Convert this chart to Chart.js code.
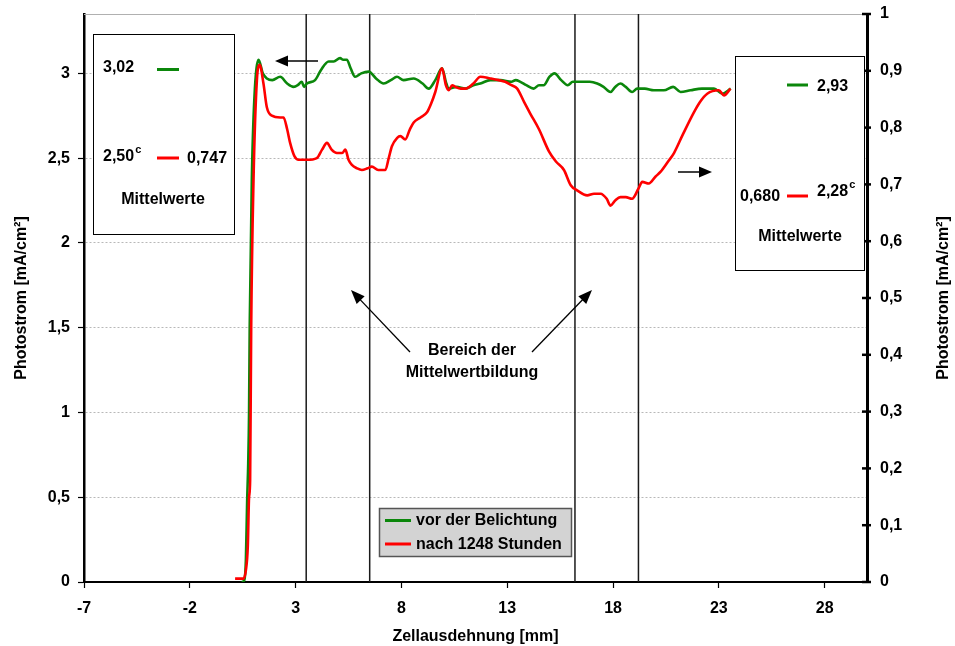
<!DOCTYPE html>
<html><head><meta charset="utf-8">
<script src="https://cdn.jsdelivr.net/npm/chart.js@4"></script>
<style>html,body{margin:0;padding:0;background:#fff}</style>
</head><body>
<canvas id="c" width="955" height="646"></canvas>
<script>
// ---- data ----
const greenX = [0.45,0.57,0.65,0.71,0.76,0.8,0.83,0.93,1.05,1.25,1.45,1.64,1.9,2.27,2.6,2.9,3.1,3.29,3.4,3.53,3.92,4.2,4.56,4.8,5.1,5.25,5.42,5.6,5.81,6.1,6.45,6.8,7.16,7.5,7.79,8.1,8.58,9.0,9.29,9.6,9.92,10.1,10.23,10.6,11.02,11.4,11.73,12.2,12.68,13.2,13.4,13.62,13.9,14.25,14.5,14.72,15.0,15.23,15.55,15.86,16.1,16.46,16.9,17.25,17.55,17.88,18.1,18.35,18.6,18.9,19.14,19.5,19.93,20.4,20.84,21.19,21.66,22.2,22.77,23.16,23.56];
const greenY = [0.0,0.01,0.13,0.48,0.7,1.0,1.5,2.37,2.85,3.08,3.0,2.97,2.96,2.98,2.94,2.92,2.93,2.95,2.92,2.94,2.96,3.02,3.07,3.07,3.09,3.08,3.08,3.03,2.98,3.0,3.01,2.97,2.94,2.96,2.98,2.96,2.97,2.94,2.91,2.96,3.03,2.95,2.91,2.92,2.91,2.93,2.94,2.96,2.96,2.95,2.96,2.95,2.93,2.91,2.93,2.93,2.98,3.0,2.96,2.93,2.95,2.95,2.95,2.94,2.92,2.89,2.92,2.94,2.92,2.89,2.91,2.91,2.9,2.9,2.92,2.89,2.9,2.91,2.91,2.88,2.91];
const redX = [0.14,0.54,0.65,0.74,0.8,0.85,0.9,1.01,1.17,1.3,1.48,1.64,1.88,2.27,2.43,2.6,2.74,2.95,3.14,3.53,4.0,4.25,4.48,4.7,4.95,5.2,5.35,5.5,5.66,5.9,6.13,6.4,6.6,6.9,7.24,7.4,7.55,7.8,7.95,8.18,8.4,8.58,8.9,9.21,9.4,9.6,9.92,10.1,10.23,10.4,10.55,10.8,11.02,11.4,11.73,12.2,12.6,12.9,13.2,13.47,13.8,14.1,14.5,14.97,15.3,15.68,16.0,16.3,16.78,17.1,17.41,17.7,17.88,18.1,18.35,18.6,18.9,19.2,19.38,19.69,20.0,20.25,20.6,20.88,21.3,21.82,22.1,22.45,23.0,23.24,23.55];
const redY = [0.02,0.02,0.07,0.21,0.5,0.6,1.5,2.37,2.96,3.05,2.94,2.8,2.75,2.74,2.74,2.67,2.59,2.51,2.49,2.49,2.5,2.55,2.59,2.55,2.53,2.53,2.55,2.49,2.46,2.44,2.43,2.44,2.45,2.43,2.43,2.5,2.57,2.62,2.63,2.61,2.67,2.71,2.74,2.77,2.82,2.89,3.03,2.93,2.9,2.93,2.92,2.91,2.91,2.94,2.98,2.97,2.96,2.95,2.93,2.91,2.83,2.76,2.67,2.54,2.48,2.43,2.34,2.31,2.28,2.29,2.29,2.26,2.22,2.25,2.27,2.27,2.26,2.32,2.36,2.35,2.39,2.42,2.48,2.53,2.64,2.77,2.83,2.88,2.9,2.87,2.91];
const seriesLabels = ['vor der Belichtung', 'nach 1248 Stunden'];
const xTicks = [-7, -2, 3, 8, 13, 18, 23, 28];
const leftTicks = [0, 0.5, 1, 1.5, 2, 2.5, 3];
const rightTicks = [0, 0.1, 0.2, 0.3, 0.4, 0.5, 0.6, 0.7, 0.8, 0.9, 1];
const avgBounds = [3.5, 6.5, 16.2, 19.2];
const meanLeft = ['3,02', '2,50', '0,747'];
const meanRight = ['2,93', '2,28', '0,680'];
const axisTitleY = 'Photostrom [mA/cm²]';
const axisTitleX = 'Zellausdehnung [mm]';

// ---- styling ----
const GREEN = '#0b870b', RED = '#ff0000';
const FONT = '"Liberation Sans", Arial, sans-serif';
const BOLD16 = 'bold 16px ' + FONT;
const toPts = (xs, ys) => xs.map((x, i) => ({x: x, y: ys[i]}));
const fmt = v => String(v).replace('.', ',');

function arrow(ctx, x1, y1, x2, y2, len, half) {
  const a = Math.atan2(y2 - y1, x2 - x1);
  ctx.beginPath(); ctx.moveTo(x1, y1);
  ctx.lineTo(x2 - Math.cos(a) * len * 0.8, y2 - Math.sin(a) * len * 0.8); ctx.stroke();
  ctx.beginPath(); ctx.moveTo(x2, y2);
  ctx.lineTo(x2 - len * Math.cos(a) + half * Math.sin(a), y2 - len * Math.sin(a) - half * Math.cos(a));
  ctx.lineTo(x2 - len * Math.cos(a) - half * Math.sin(a), y2 - len * Math.sin(a) + half * Math.cos(a));
  ctx.closePath(); ctx.fill();
}
function dash(ctx, x1, x2, y, color) {
  ctx.save(); ctx.strokeStyle = color; ctx.lineWidth = 3; ctx.beginPath();
  ctx.moveTo(x1, y); ctx.lineTo(x2, y); ctx.stroke(); ctx.restore();
}

const decor = {
  id: 'decor',
  beforeDatasetsDraw(chart) {
    const {ctx, chartArea: ca, scales: {x}} = chart;
    ctx.save();
    ctx.strokeStyle = '#b0b0b0'; ctx.lineWidth = 1;
    ctx.beginPath(); ctx.moveTo(ca.left, ca.top + 0.5); ctx.lineTo(ca.right, ca.top + 0.5); ctx.stroke();
    ctx.strokeStyle = '#1a1a1a'; ctx.lineWidth = 1.5;
    avgBounds.forEach(v => {
      const px = x.getPixelForValue(v);
      ctx.beginPath(); ctx.moveTo(px, ca.top); ctx.lineTo(px, ca.bottom); ctx.stroke();
    });
    ctx.restore();
  },
  afterDraw(chart) {
    const {ctx, scales: {y2}} = chart;
    ctx.save();
    // right axis crossing ticks
    ctx.strokeStyle = '#000'; ctx.lineWidth = 2.5;
    rightTicks.forEach(v => {
      const py = y2.getPixelForValue(v);
      ctx.beginPath(); ctx.moveTo(y2.left - 5, py); ctx.lineTo(y2.left + 4, py); ctx.stroke();
    });
    // right axis title
    ctx.save(); ctx.translate(944, 298); ctx.rotate(-Math.PI / 2);
    ctx.font = BOLD16; ctx.fillStyle = '#000'; ctx.textAlign = 'center'; ctx.textBaseline = 'middle';
    ctx.fillText(axisTitleY, 0, 0); ctx.restore();

    ctx.fillStyle = '#000'; ctx.strokeStyle = '#000'; ctx.lineWidth = 1;
    // left mean box
    ctx.fillStyle = '#fff'; ctx.fillRect(93, 34, 141, 200);
    ctx.strokeRect(93.5, 34.5, 141, 200);
    ctx.fillStyle = '#000'; ctx.font = BOLD16; ctx.textBaseline = 'middle'; ctx.textAlign = 'left';
    ctx.fillText(meanLeft[0], 103, 68);
    dash(ctx, 157, 179, 69.5, GREEN);
    ctx.fillText(meanLeft[1], 103, 157);
    let w = ctx.measureText(meanLeft[1]).width;
    ctx.font = 'bold 11px ' + FONT; ctx.fillText('c', 103 + w + 1, 150);
    ctx.font = BOLD16;
    dash(ctx, 157, 179, 158, RED);
    ctx.fillText(meanLeft[2], 187, 158.5);
    ctx.textAlign = 'center'; ctx.fillText('Mittelwerte', 163, 200);
    // right mean box
    ctx.fillStyle = '#fff'; ctx.fillRect(735, 56, 129, 214);
    ctx.strokeRect(735.5, 56.5, 129, 214);
    ctx.fillStyle = '#000'; ctx.textAlign = 'left';
    dash(ctx, 787, 808, 85, GREEN);
    ctx.fillText(meanRight[0], 817, 86.5);
    ctx.fillText(meanRight[1], 817, 192);
    w = ctx.measureText(meanRight[1]).width;
    ctx.font = 'bold 11px ' + FONT; ctx.fillText('c', 817 + w + 1, 185);
    ctx.font = BOLD16;
    ctx.fillText(meanRight[2], 740, 196.5);
    dash(ctx, 787, 808, 196, RED);
    ctx.textAlign = 'center'; ctx.fillText('Mittelwerte', 800, 237);
    // arrows
    ctx.lineWidth = 1.5;
    arrow(ctx, 318, 61, 275, 61, 13, 5.5);
    arrow(ctx, 678, 172, 712, 172, 13, 5.5);
    ctx.lineWidth = 1.3;
    arrow(ctx, 410, 352, 351, 290, 14, 5.5);
    arrow(ctx, 532, 352, 592, 290, 14, 5.5);
    ctx.fillText('Bereich der', 472, 351);
    ctx.fillText('Mittelwertbildung', 472, 373);
    // legend
    ctx.fillStyle = '#d3d3d3'; ctx.fillRect(379, 508, 193, 49);
    ctx.strokeStyle = '#555'; ctx.lineWidth = 1.5; ctx.strokeRect(379.5, 508.5, 192, 48);
    dash(ctx, 385, 411, 520.5, GREEN);
    dash(ctx, 385, 411, 544, RED);
    ctx.fillStyle = '#000'; ctx.textAlign = 'left';
    ctx.fillText(seriesLabels[0], 416, 521);
    ctx.fillText(seriesLabels[1], 416, 545);
    ctx.restore();
  }
};

const noPad = s => { s.paddingTop = 0; s.paddingBottom = 0; };

new Chart(document.getElementById('c'), {
  type: 'line',
  data: {
    datasets: [
      {label: seriesLabels[0], data: toPts(greenX, greenY), borderColor: GREEN, borderWidth: 2.6, pointRadius: 0, cubicInterpolationMode: 'monotone', yAxisID: 'y', order: 2},
      {label: seriesLabels[1], data: toPts(redX, redY), borderColor: RED, borderWidth: 2.6, pointRadius: 0, cubicInterpolationMode: 'monotone', yAxisID: 'y', order: 1}
    ]
  },
  options: {
    responsive: false, animation: false, devicePixelRatio: 1,
    layout: {padding: {top: 14, left: 0, right: 0, bottom: 0}},
    plugins: {legend: {display: false}, tooltip: {enabled: false}},
    scales: {
      x: {
        type: 'linear', position: 'bottom', min: -7, max: 30,
        afterBuildTicks: s => { s.ticks = xTicks.map(v => ({value: v})); },
        afterFit: s => { s.height = 64; s.paddingLeft = 0; s.paddingRight = 0; },
        grid: {drawOnChartArea: false, tickLength: 6, tickColor: '#000', tickWidth: 1.2},
        border: {color: '#000', width: 2},
        ticks: {color: '#000', font: {family: FONT, size: 16, weight: 'bold'}, padding: 11, maxRotation: 0, callback: fmt},
        title: {display: true, text: axisTitleX, color: '#000', font: {family: FONT, size: 16, weight: 'bold'}, padding: {top: 0, bottom: 0}}
      },
      y: {
        type: 'linear', position: 'left', min: 0, max: 3.35,
        afterBuildTicks: s => { s.ticks = leftTicks.map(v => ({value: v})); },
        afterFit: s => { s.width = 84; noPad(s); },
        grid: {color: '#b8b8b8', lineWidth: 1, tickLength: 6, tickColor: '#000', tickWidth: 1.2, tickBorderDash: []},
        border: {color: '#000', width: 2.5, dash: [2, 2]},
        ticks: {color: '#000', font: {family: FONT, size: 16, weight: 'bold'}, padding: 8, callback: fmt},
        title: {display: true, text: axisTitleY, color: '#000', font: {family: FONT, size: 16, weight: 'bold'}, padding: {top: 12, bottom: 0}}
      },
      y2: {
        type: 'linear', position: 'right', min: 0, max: 1,
        afterBuildTicks: s => { s.ticks = rightTicks.map(v => ({value: v})); },
        afterFit: s => { s.width = 88; noPad(s); },
        grid: {display: true, drawOnChartArea: false, drawTicks: false},
        border: {color: '#000', width: 3},
        ticks: {color: '#000', font: {family: FONT, size: 16, weight: 'bold'}, padding: 13, callback: fmt}
      }
    }
  },
  plugins: [decor]
});
</script>
</body></html>
